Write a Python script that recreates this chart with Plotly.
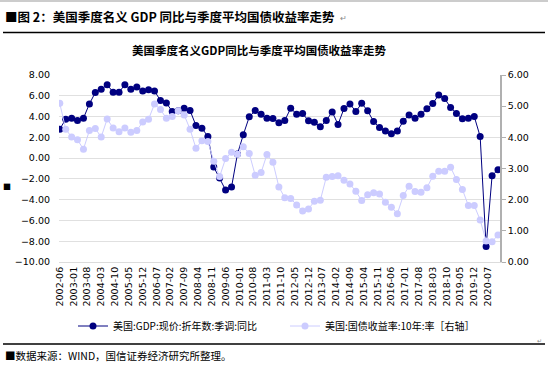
import pandas as pd
import plotly.graph_objects as go

# ---- data (quarterly, 2002Q2 .. 2020Q4) ----
quarters = pd.date_range("2002-06-01", periods=75, freq="3MS")

gdp_yoy = [
    2.79, 3.75, 3.84, 3.62, 3.84, 5.22, 6.31, 6.62, 7.07, 6.34,
    6.34, 7.07, 6.62, 6.85, 6.46, 6.59, 6.46, 5.54, 5.31, 4.48,
    4.55, 4.80, 4.58, 3.14, 2.88, 2.08, -0.86, -1.91, -3.07, -2.78,
    0.39, 2.24, 3.97, 4.58, 4.23, 3.84, 3.81, 3.40, 3.62, 4.80,
    4.23, 4.29, 3.59, 3.46, 3.01, 3.62, 4.45, 3.24, 4.77, 5.22,
    4.48, 5.28, 4.55, 3.52, 2.95, 2.60, 2.34, 2.60, 3.55, 4.16,
    3.84, 4.23, 4.74, 5.25, 6.08, 5.73, 4.87, 4.29, 3.78, 3.84,
    4.00, 2.08, -8.50, -1.69, -1.11,
]

yield_10y = [
    5.09, 4.26, 4.01, 3.92, 3.62, 4.22, 4.28, 4.01, 4.59, 4.30,
    4.18, 4.30, 4.16, 4.22, 4.49, 4.58, 5.07, 4.89, 4.61, 4.67,
    4.85, 4.72, 4.26, 3.65, 3.89, 3.87, 3.23, 2.74, 3.32, 3.52,
    3.46, 3.70, 3.48, 2.78, 2.87, 3.45, 3.20, 2.41, 2.06, 2.04,
    1.83, 1.64, 1.70, 1.95, 1.98, 2.72, 2.74, 2.77, 2.62, 2.50,
    2.27, 1.97, 2.16, 2.22, 2.18, 1.92, 1.76, 1.55, 2.13, 2.43,
    2.26, 2.24, 2.38, 2.75, 2.91, 2.91, 3.04, 2.65, 2.33, 1.81,
    1.81, 1.35, 0.67, 0.65, 0.87,
]

name_gdp = "美国:GDP:现价:折年数:季调:同比"
name_yield = "美国:国债收益率:10年:率［右轴］"
heading = "■图 2：美国季度名义 GDP 同比与季度平均国债收益率走势"
chart_title = "美国季度名义GDP同比与季度平均国债收益率走势"
source = "■数据来源：WIND，国信证券经济研究所整理。"

# ---- layout geometry ----
W, H = 548, 367
L, R, T, B = 59, 48, 75, 105
PW, PH = W - L - R, H - T - B


def px(x):
    return (x - L) / PW


def py(y):
    return (H - B - y) / PH


CJK = "Noto Sans CJK SC"
NUM = "DejaVu Sans"
dark = "#000080"
light = "#ccccff"

fig = go.Figure()
fig.add_trace(go.Scatter(
    x=quarters, y=gdp_yoy, name=name_gdp, mode="lines+markers",
    line=dict(color=dark, width=1), marker=dict(color=dark, size=7),
    legend="legend",
))
fig.add_trace(go.Scatter(
    x=quarters, y=yield_10y, name=name_yield, mode="lines+markers",
    line=dict(color=light, width=1), marker=dict(color=light, size=7),
    yaxis="y2", legend="legend2",
))

fig.update_layout(
    width=W, height=H,
    margin=dict(l=L, r=R, t=T, b=B),
    paper_bgcolor="white", plot_bgcolor="white",
    font=dict(family=NUM, size=9, color="black"),
    xaxis=dict(
        type="date", range=["2002-05-20", "2021-01-01"],
        tick0="2002-06-01", dtick="M7", tickformat="%Y-%m",
        tickangle=-90, showgrid=False, ticks="",
        showline=True, linecolor="#dcdcdc", linewidth=1,
        tickfont=dict(family=NUM, size=9.5),
    ),
    yaxis=dict(
        range=[-10, 8], dtick=2, tickformat=".2f",
        showgrid=True, gridcolor="#e0e0e0", gridwidth=1,
        zeroline=False, ticks="", ticklabelstandoff=8,
        tickfont=dict(family=NUM, size=9.5),
    ),
    yaxis2=dict(
        range=[0, 6], dtick=1, tickformat=".2f", overlaying="y",
        side="right", showgrid=False, zeroline=False,
        showline=True, linecolor="#b0b0b0", linewidth=1.5,
        ticks="outside", ticklen=4, tickcolor="#b0b0b0",
        tickfont=dict(family=NUM, size=9.5),
    ),
    legend=dict(
        orientation="h", x=px(73), y=py(326), xanchor="left", yanchor="middle",
        font=dict(family=CJK, size=10), bgcolor="rgba(0,0,0,0)",
    ),
    legend2=dict(
        orientation="h", x=px(285), y=py(326), xanchor="left", yanchor="middle",
        font=dict(family=CJK, size=10), bgcolor="rgba(0,0,0,0)",
    ),
    showlegend=True,
)

annotations = [
    dict(text="<b>" + heading + "</b>", x=px(3), y=py(16), xanchor="left",
         yanchor="middle", font=dict(family=CJK, size=12.5)),
    dict(text="↵", x=px(338), y=py(18), xanchor="left", yanchor="middle",
         font=dict(family=CJK, size=8, color="#888888")),
    dict(text="<b>" + chart_title + "</b>", x=px(259), y=py(50), xanchor="center",
         yanchor="middle", font=dict(family=CJK, size=11.5)),
    dict(text="■", x=px(7), y=py(186), xanchor="center", yanchor="middle",
         font=dict(family=CJK, size=8)),
    dict(text=source, x=px(3), y=py(355), xanchor="left", yanchor="middle",
         font=dict(family=CJK, size=10.5)),
    dict(text="↵", x=px(544), y=py(340), xanchor="right", yanchor="middle",
         font=dict(family=CJK, size=6, color="#888888")),
]
for a in annotations:
    a.update(xref="paper", yref="paper", showarrow=False)
fig.update_layout(annotations=annotations)

shapes = [
    dict(x0=px(0), x1=px(548), y0=py(1), y1=py(1), line=dict(color="#999999", width=1)),
    dict(x0=px(3), x1=px(545), y0=py(32.5), y1=py(32.5), line=dict(color="black", width=1.5)),
    dict(x0=px(3), x1=px(545), y0=py(344), y1=py(344), line=dict(color="black", width=1.5)),
]
for s in shapes:
    s.update(type="line", xref="paper", yref="paper")
fig.update_layout(shapes=shapes)

fig.write_html(
    "out.html",
    config={"displayModeBar": False},
    post_script="document.body.style.margin='0';document.body.style.padding='0';",
)
